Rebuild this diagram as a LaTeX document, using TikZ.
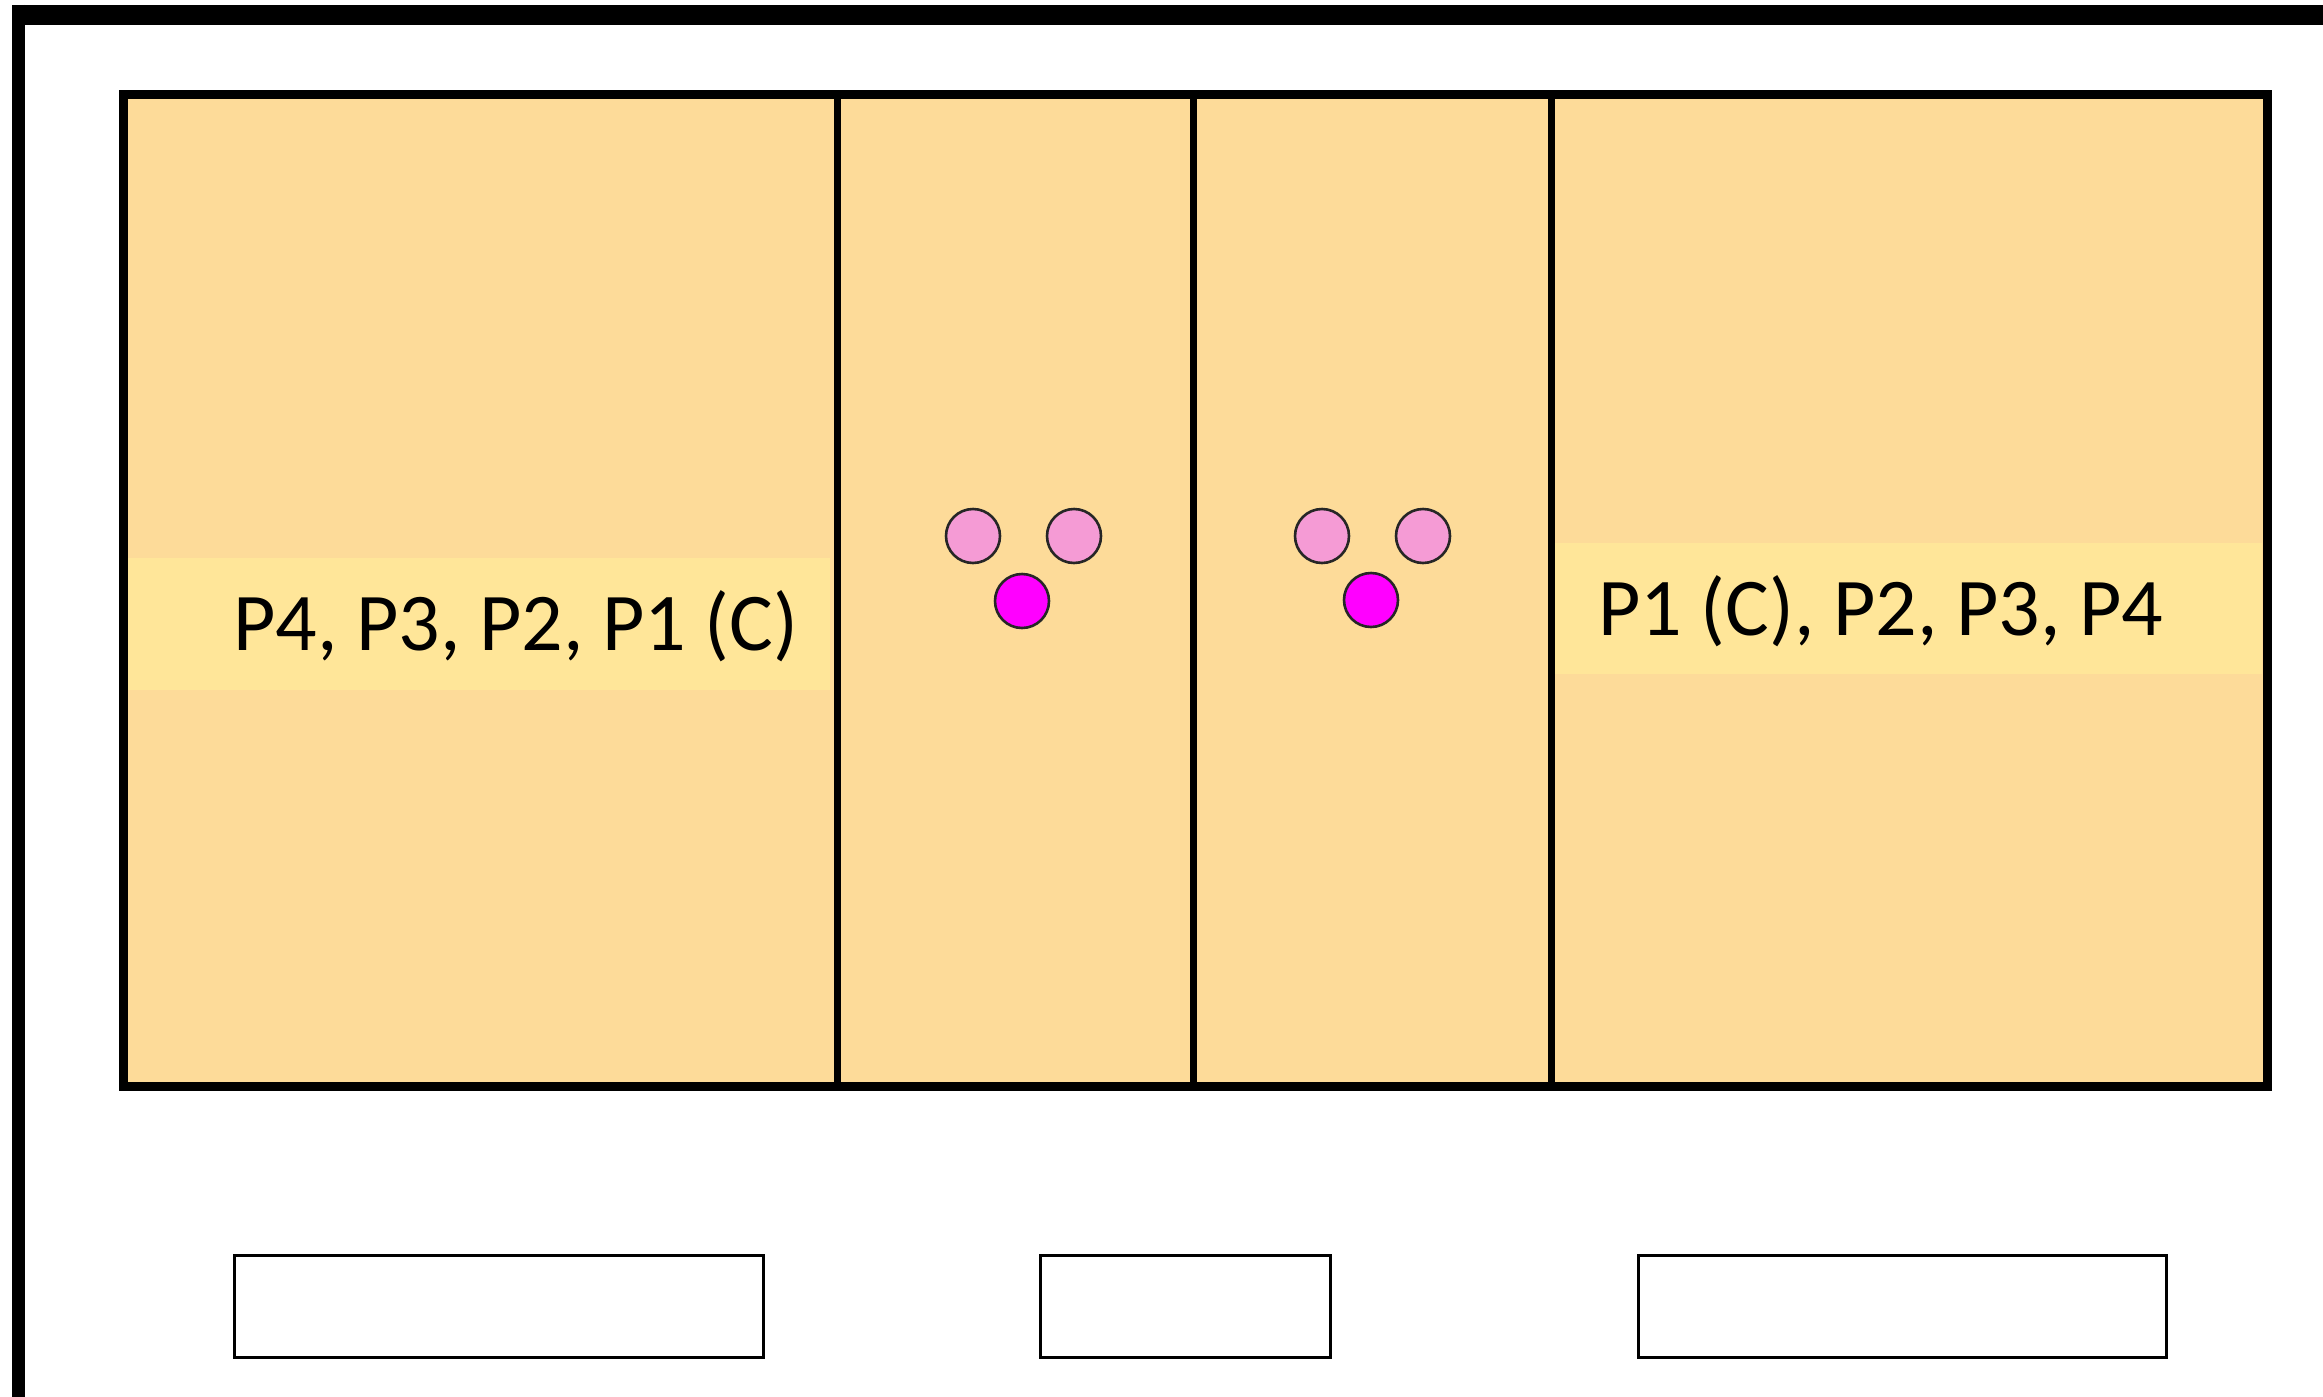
\documentclass[tikz,border=0pt]{standalone}
\usepackage{fontspec}
\setmainfont{Carlito}
\definecolor{panel}{RGB}{253,219,153}
\definecolor{band}{RGB}{255,230,153}
\definecolor{seatpink}{RGB}{245,155,213}
\definecolor{seatmag}{RGB}{255,0,255}

\begin{document}
\begin{tikzpicture}[x=1pt,y=-1pt,
	seat/.style={circle,draw=black!85,line width=2.6pt,minimum size=54pt,inner sep=0pt},
	teamtext/.style={anchor=base west,inner sep=0pt,font=\fontsize{82}{98}\selectfont},
	bench/.style={draw,line width=3pt,minimum height=102pt,inner sep=0pt}]

	\useasboundingbox (0,0) rectangle (2323,1397);

	% outer frame
	\draw[line width=20pt] (12,15) -- (2323,15);
	\draw[line width=13pt] (18.5,5) -- (18.5,1397);

	% court
	\fill[panel] (123,94) rectangle (2267,1086);
	\fill[band] (126,558) rectangle (830,690);
	\fill[band] (1555,543) rectangle (2262,674);
	\draw[line width=9pt] (123,94) rectangle (2267,1086);
	\foreach \x in {837,1193,1551}
	    \draw[line width=7pt] (\x,94) -- (\x,1086);

	\node[teamtext] (left) at (233,650) {P4, P3, P2, P1 (C)};
	\node[teamtext] (right) at (1598,635) {P1 (C), P2, P3, P4};

	% seats
	\node[seat,fill=seatpink] (la) at (973,536) {};
	\node[seat,fill=seatpink] (lb) at (1074,536) {};
	\node[seat,fill=seatmag] (lc) at (1022,601) {};

	\begin{scope}[xshift=349pt]
	\node[seat,fill=seatpink] (ra) at (973,536) {};
	\node[seat,fill=seatpink] (rb) at (1074,536) {};
	\node[seat,fill=seatmag] (rc) at (1022,600) {};
	\end{scope}

	% benches
	\node[bench,minimum width=529pt] (benchL) at (498.5,1306) {};
	\node[bench,minimum width=290pt] (benchM) at (1185,1306) {};
	\node[bench,minimum width=528pt] (benchR) at (1902,1306) {};

\end{tikzpicture}
\end{document}
